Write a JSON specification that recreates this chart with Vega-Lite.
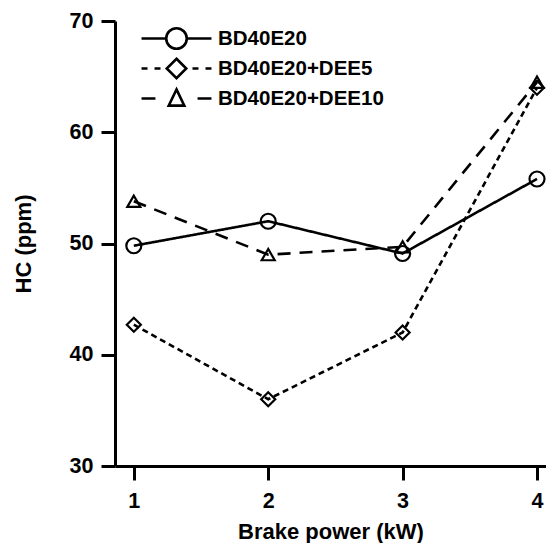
{
  "$schema": "https://vega.github.io/schema/vega-lite/v6.json",
  "autosize": "none",
  "width": 431,
  "height": 445,
  "padding": {"left": 115, "top": 21, "right": 0, "bottom": 77},
  "background": "white",
  "config": {
    "view": {"stroke": null},
    "axis": {
      "grid": false,
      "domainColor": "black",
      "domainWidth": 3,
      "tickColor": "black",
      "tickWidth": 3,
      "tickSize": 14,
      "labelFont": "Liberation Sans",
      "labelFontWeight": "bold",
      "labelFontSize": 21.5,
      "labelColor": "black",
      "labelFlush": false,
      "labelOverlap": false,
      "titleFont": "Liberation Sans",
      "titleFontWeight": "bold",
      "titleFontSize": 22,
      "titleColor": "black"
    },
    "legend": {
      "labelFont": "Liberation Sans",
      "labelFontWeight": "bold",
      "labelFontSize": 20.5,
      "labelColor": "black",
      "labelLimit": 300
    }
  },
  "data": {
    "values": [
      {"power": 1, "hc": 49.8, "series": "BD40E20"},
      {"power": 2, "hc": 52.0, "series": "BD40E20"},
      {"power": 3, "hc": 49.1, "series": "BD40E20"},
      {"power": 4, "hc": 55.8, "series": "BD40E20"},
      {"power": 1, "hc": 42.7, "series": "BD40E20+DEE5"},
      {"power": 2, "hc": 36.0, "series": "BD40E20+DEE5"},
      {"power": 3, "hc": 42.0, "series": "BD40E20+DEE5"},
      {"power": 4, "hc": 64.0, "series": "BD40E20+DEE5"},
      {"power": 1, "hc": 53.8, "series": "BD40E20+DEE10"},
      {"power": 2, "hc": 49.0, "series": "BD40E20+DEE10"},
      {"power": 3, "hc": 49.7, "series": "BD40E20+DEE10"},
      {"power": 4, "hc": 64.5, "series": "BD40E20+DEE10"}
    ]
  },
  "encoding": {
    "x": {
      "field": "power",
      "type": "quantitative",
      "scale": {"domain": [0.86, 4.067], "nice": false, "zero": false},
      "axis": {"values": [1, 2, 3, 4], "format": "d", "title": "Brake power (kW)", "labelPadding": 10, "titlePadding": 10}
    },
    "y": {
      "field": "hc",
      "type": "quantitative",
      "scale": {"domain": [30, 70], "nice": false, "zero": false},
      "axis": {"values": [30, 40, 50, 60, 70], "title": "HC (ppm)", "labelPadding": 8, "titlePadding": 34}
    }
  },
  "layer": [
    {
      "mark": {"type": "line", "color": "black", "strokeWidth": 2.6},
      "encoding": {
        "strokeDash": {
          "field": "series",
          "type": "nominal",
          "scale": {"domain": ["BD40E20", "BD40E20+DEE5", "BD40E20+DEE10"], "range": [[1, 0], [6, 4], [13, 9]]},
          "legend": null
        }
      }
    },
    {
      "mark": {"type": "point", "filled": false, "color": "black", "strokeWidth": 2.2, "opacity": 1},
      "encoding": {
        "shape": {
          "field": "series",
          "type": "nominal",
          "scale": {"domain": ["BD40E20", "BD40E20+DEE5", "BD40E20+DEE10"], "range": ["circle", "diamond", "triangle-up"]},
          "legend": null
        },
        "size": {
          "field": "series",
          "type": "ordinal",
          "scale": {"domain": ["BD40E20", "BD40E20+DEE5", "BD40E20+DEE10"], "range": [225, 170, 225]},
          "legend": null
        }
      }
    },
    {
      "mark": {"type": "point", "filled": false, "color": "black", "strokeWidth": 2, "opacity": 0},
      "encoding": {
        "shape": {
          "field": "series",
          "type": "nominal",
          "scale": {
            "domain": ["BD40E20", "BD40E20+DEE5", "BD40E20+DEE10"],
            "range": [
              "M-2.69,0H-0.79M0.79,0H2.69M-0.79,0A0.79,0.79 0 1,0 0.79,0A0.79,0.79 0 1,0 -0.79,0",
              "M-2.69,0H-2.23M-1.69,0H-1.23M1.23,0H1.69M2.23,0H2.69M0,-0.75L0.75,0L0,0.75L-0.75,0Z",
              "M-2.69,0H-1.62M1.62,0H2.69M0,-0.7L0.6,0.55L-0.6,0.55Z"
            ]
          },
          "legend": {
            "title": null,
            "orient": "none",
            "legendX": 47,
            "legendY": 3,
            "symbolSize": 676,
            "symbolOpacity": 1,
            "symbolStrokeColor": "black",
            "symbolFillColor": "transparent",
            "symbolStrokeWidth": 2.6,
            "labelOffset": 27,
            "rowPadding": -2
          }
        }
      }
    }
  ],
  "resolve": {"scale": {"shape": "independent"}, "legend": {"shape": "independent"}}
}
